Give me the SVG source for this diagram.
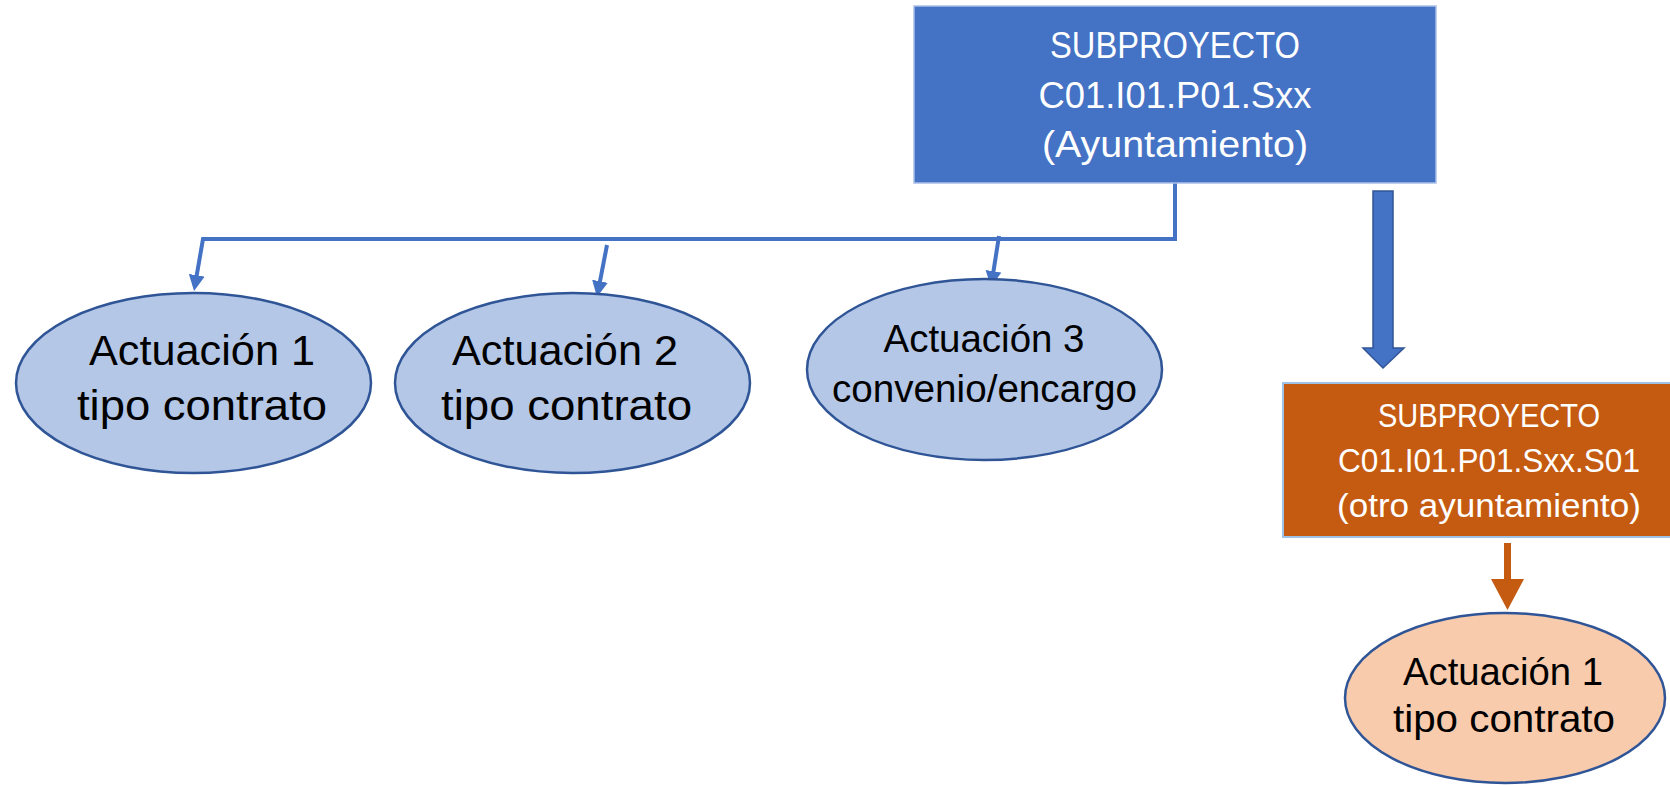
<svg xmlns="http://www.w3.org/2000/svg" width="1670" height="785" viewBox="0 0 1670 785">
<style>
.t{font-family:"Liberation Sans",Arial,sans-serif;text-anchor:middle}
.w{fill:#ffffff}
.k{fill:#000000}
.ell{fill:#B4C7E7;stroke:#2F5597;stroke-width:2.5}
.ello{fill:#F8CBAD;stroke:#2F5597;stroke-width:2.5}
.con{fill:none;stroke:#4472C4;stroke-width:4}
</style>
<defs>
<marker id="ah" viewBox="0 0 10 10" refX="2" refY="5" markerWidth="4" markerHeight="4" orient="auto" markerUnits="strokeWidth">
<path d="M0,0 L10,5 L0,10 Z" fill="#4472C4"/>
</marker>
</defs>
<rect width="1670" height="785" fill="#ffffff"/>

<g id="connectors">
<path class="con" d="M1175,183 V239 H203 L196.2,278.4" marker-end="url(#ah)"/>
<path class="con" d="M607,245 L599.4,284.4" marker-end="url(#ah)"/>
<path class="con" d="M999,236 L993,274.4" marker-end="url(#ah)"/>
<path d="M1373,191 H1393 V348 H1404 L1383,368 L1363,348 H1373 Z" fill="#4472C4" stroke="#2F5597" stroke-width="1.5"/>
<path d="M1504,543 H1511 V579 H1524 L1507.5,610 L1491,579 H1504 Z" fill="#C55A11"/>
</g>

<g id="subproyecto">
<rect x="914" y="6" width="522" height="177" fill="#4472C4" stroke="#A9BFE8" stroke-width="1.5"/>
<text class="t w" x="1175" y="58" font-size="37" textLength="250" lengthAdjust="spacingAndGlyphs">SUBPROYECTO</text>
<text class="t w" x="1175" y="108" font-size="37" textLength="273" lengthAdjust="spacingAndGlyphs">C01.I01.P01.Sxx</text>
<text class="t w" x="1175" y="157" font-size="37" textLength="266" lengthAdjust="spacingAndGlyphs">(Ayuntamiento)</text>
</g>

<g id="actuacion1">
<ellipse class="ell" cx="193.5" cy="383" rx="177.5" ry="90"/>
<text class="t k" x="202" y="365" font-size="43" textLength="226" lengthAdjust="spacingAndGlyphs">Actuación 1</text>
<text class="t k" x="202" y="420" font-size="43" textLength="250" lengthAdjust="spacingAndGlyphs">tipo contrato</text>
</g>

<g id="actuacion2">
<ellipse class="ell" cx="572.5" cy="383" rx="177.5" ry="90"/>
<text class="t k" x="565" y="365" font-size="43" textLength="226" lengthAdjust="spacingAndGlyphs">Actuación 2</text>
<text class="t k" x="566.5" y="420" font-size="43" textLength="251" lengthAdjust="spacingAndGlyphs">tipo contrato</text>
</g>

<g id="actuacion3">
<ellipse class="ell" cx="984.5" cy="369.5" rx="177.5" ry="90.5"/>
<text class="t k" x="984" y="352" font-size="38" textLength="201" lengthAdjust="spacingAndGlyphs">Actuación 3</text>
<text class="t k" x="984.5" y="402" font-size="38" textLength="305" lengthAdjust="spacingAndGlyphs">convenio/encargo</text>
</g>

<g id="subproyecto-s01">
<rect x="1283" y="383" width="420" height="154" fill="#C55A11" stroke="#9DC3E6" stroke-width="2"/>
<text class="t w" x="1489" y="427" font-size="33" textLength="222" lengthAdjust="spacingAndGlyphs">SUBPROYECTO</text>
<text class="t w" x="1489" y="472" font-size="33" textLength="302" lengthAdjust="spacingAndGlyphs">C01.I01.P01.Sxx.S01</text>
<text class="t w" x="1489" y="517" font-size="33" textLength="304" lengthAdjust="spacingAndGlyphs">(otro ayuntamiento)</text>
</g>

<g id="actuacion1-s01">
<ellipse class="ello" cx="1505" cy="698" rx="160" ry="85"/>
<text class="t k" x="1503" y="685" font-size="38" textLength="200" lengthAdjust="spacingAndGlyphs">Actuación 1</text>
<text class="t k" x="1504" y="732" font-size="38" textLength="222" lengthAdjust="spacingAndGlyphs">tipo contrato</text>
</g>
</svg>
